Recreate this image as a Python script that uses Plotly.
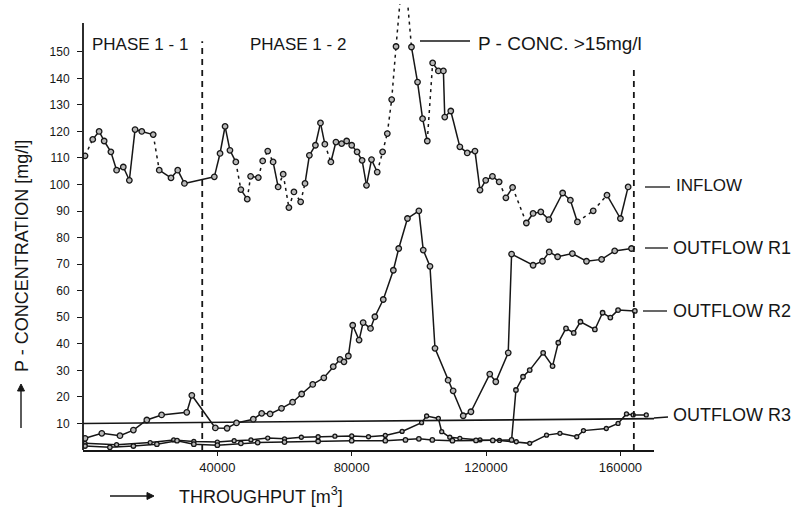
import plotly.graph_objects as go

# ---------------- data ----------------
inflow_x = [600, 2900, 4800, 6300, 8300, 10000, 12000, 13800, 15500, 17500,
            20900, 22700, 26200, 28200, 30200, 39100, 40800, 42300, 43750, 45500,
            47000, 48900, 49900, 52200, 53500, 55000, 56600, 58100, 59600, 61300,
            62800, 64800, 66100, 67400, 69200, 70700, 72000, 73800, 75300, 77000,
            78500, 80000, 81600, 83100, 84400, 85900, 87600, 89200, 90600, 91900,
            93200, 95500, 97800, 99600, 101100, 102500, 104100, 105800, 107300, 107700,
            109500, 112200, 114400, 116700, 118200, 119900, 121900, 123900, 125900, 127900,
            132000, 134000, 136300, 138700, 142800, 145100, 147200, 151900, 156000, 160000,
            162300]
inflow_y = [110.8, 117, 120, 116.4, 112.3, 105.4, 106.6, 101.6, 120.7, 120,
            118.8, 105.4, 102.5, 105.4, 100.4, 102.9, 111.7, 121.9, 112.9, 108.5,
            98.1, 94.5, 103.1, 102.6, 108.9, 112.6, 108.5, 99.1, 103.9, 91.3,
            97.2, 93.5, 100.4, 111, 114.8, 123.2, 115.2, 108.5, 116, 115.4,
            116.4, 114.8, 112.3, 109.1, 99.7, 109.4, 104.7, 112.3, 119.2, 132,
            152, 185, 151.8, 138.6, 124.8, 116.4, 145.8, 142.8, 142.8, 125.4,
            127.7, 114.2, 111.9, 112.6, 97.9, 101.6, 103.1, 101, 95, 98.9,
            85.5, 89.1, 89.7, 86.8, 96.8, 94.1, 85.9, 90.1, 96, 87.2,
            99.1]
# index of the point that lies above the axis (P-conc. > scale)
inflow_offscale = [51]
# segments i -> i+1 that are drawn dashed (gaps in the record)
inflow_dashed = [0, 10, 19, 21, 23, 24, 25, 27, 28, 29, 30, 31, 36, 46, 47, 48,
                 49, 50, 51, 55, 67, 69, 76, 77]

r1_x = [600, 5600, 11000, 15000, 19000, 23400, 30900, 32400, 39400, 42900,
        45700, 50700, 53200, 55700, 59100, 62400, 65100, 68400, 71700, 74500,
        76500, 77700, 79000, 80300, 82200, 83400, 85600, 86900, 89400, 92400,
        94000, 96600, 100000, 101300, 103300, 104800, 108700, 110200, 113200, 115500,
        121100, 122900, 126600, 127600, 134000, 136800, 138800, 141300, 145700, 149900,
        154400, 158300, 163300]
r1_y = [4.4, 6.3, 5.4, 7.5, 11.3, 13.2, 14.2, 20.6, 8.3, 8.2,
        10.2, 11.6, 13.8, 13.6, 15.7, 18, 21.1, 24.7, 27.2, 31.4,
        34.1, 33.2, 35.4, 47, 41.4, 48, 45.8, 50.2, 56.7, 67.7,
        75.9, 87.2, 90.1, 75.3, 69.2, 38.3, 26.3, 22.3, 12.9, 14.4,
        28.6, 25.7, 36.6, 73.8, 69.6, 71.1, 74.6, 72.8, 74, 71.1,
        71.8, 75, 75.9]

r2_x = [600, 8000, 15000, 22000, 28000, 33000, 40000, 47000, 52000, 60000,
        70000, 80000, 90000, 96000, 100000, 104000, 110000, 117000, 122000, 127600,
        128900, 131000, 133000, 137000, 139800, 141500, 143800, 146100, 148100, 152400,
        154700, 157000, 159300, 164300]
r2_y = [1.5, 1.0, 1.5, 2.2, 3.5, 2.2, 1.8, 2.5, 2.8, 3.0,
        3.3, 3.5, 3.5, 3.8, 4.2, 3.8, 3.5, 3.6, 3.6, 3.8,
        22.6, 27.6, 30.1, 36.6, 31.6, 40.4, 45.8, 44.1, 48.3, 45.4,
        51.7, 49.9, 52.7, 52.4]

r3_x = [600, 10000, 20000, 27000, 33000, 40000, 45000, 50000, 55000, 60000,
        65000, 70000, 75000, 80000, 85000, 90000, 95000, 100800, 102300, 105800,
        106800, 109200, 112200, 118200, 124000, 129000, 133000, 138000, 142000, 147000,
        149000, 155800, 159300, 161800, 163800, 167700]
r3_y = [2.5, 2.0, 2.8, 3.8, 3.2, 3.0, 3.5, 3.8, 4.5, 4.2,
        4.8, 5.0, 5.2, 5.3, 5.0, 5.5, 7.0, 10.3, 12.8, 11.9,
        6.9, 4.8, 4.4, 3.8, 3.6, 3.1, 2.5, 5.6, 6.3, 5.0,
        7.3, 8.1, 10.0, 13.6, 13.2, 13.2]

limit_x = [0, 170000]
limit_y = [10, 11.8]

phase_boundary_x = 35500
phase_boundary_top = 154
end_x = 164000
end_top = 145

ytick_vals = [10, 20, 30, 40, 50, 60, 70, 80, 90, 100, 110, 120, 130, 140, 150]
xtick_vals = [40000, 80000, 120000, 160000]
xtick_text = ["40000", "80000", "120000", "160000"]

FONT = "Liberation Sans"
INK = "#161616"

# ---------------- layout geometry ----------------
L, R, T, B = 83, 142, 4, 58
W, H = 796, 508
PW, PH = W - L - R, H - T - B


def px(x):
    return (x - L) / PW


def py(y):
    return (H - B - y) / PH


def split(xs, ys, dashed):
    sx, sy, dx, dy = [], [], [], []
    for i in range(len(xs) - 1):
        if i in dashed:
            dx += [xs[i], xs[i + 1], None]
            dy += [ys[i], ys[i + 1], None]
        else:
            sx += [xs[i], xs[i + 1], None]
            sy += [ys[i], ys[i + 1], None]
    return sx, sy, dx, dy


fig = go.Figure()

marker = dict(size=5.5, color="#b8b8b8", line=dict(color=INK, width=1.3), symbol="circle")

# limit line
fig.add_trace(go.Scatter(x=limit_x, y=limit_y, mode="lines",
                         line=dict(color=INK, width=1.6), hoverinfo="skip"))

# inflow
sx, sy, dx, dy = split(inflow_x, inflow_y, inflow_dashed)
fig.add_trace(go.Scatter(x=sx, y=sy, mode="lines", line=dict(color=INK, width=1.5)))
fig.add_trace(go.Scatter(x=dx, y=dy, mode="lines", line=dict(color=INK, width=1.5, dash="3px,4px")))
mx = [x for i, x in enumerate(inflow_x) if i not in inflow_offscale]
my = [y for i, y in enumerate(inflow_y) if i not in inflow_offscale]
fig.add_trace(go.Scatter(x=mx, y=my, mode="markers", marker=marker))

# outflows
for xs, ys, msize in [(r3_x, r3_y, 4), (r2_x, r2_y, 4.5), (r1_x, r1_y, 5.5)]:
    m = dict(marker)
    m["size"] = msize
    fig.add_trace(go.Scatter(x=xs, y=ys, mode="lines+markers",
                             line=dict(color=INK, width=1.5), marker=m))


def pline(x0, y0, x1, y1, w=1.3):
    return dict(type="line", xref="paper", yref="paper", x0=px(x0), x1=px(x1),
                y0=py(y0), y1=py(y1), line=dict(color=INK, width=w))


def arrow_head(tipx, tipy, dirx, diry, size=7, half=3.5):
    # triangle pointing in direction (dirx, diry) given in pixels
    bx, by = tipx - dirx * size, tipy - diry * size
    nx, ny = -diry, dirx
    pts = [(tipx, tipy), (bx + nx * half, by + ny * half), (bx - nx * half, by - ny * half)]
    path = "M " + " L ".join(f"{px(a):.5f},{py(b):.5f}" for a, b in pts) + " Z"
    return dict(type="path", xref="paper", yref="paper", path=path,
                fillcolor=INK, line=dict(color=INK, width=1))


shapes = [
    # phase boundary and end of test
    dict(type="line", xref="x", yref="y", x0=phase_boundary_x, x1=phase_boundary_x,
         y0=0, y1=phase_boundary_top, line=dict(color=INK, width=1.8, dash="6px,5px")),
    dict(type="line", xref="x", yref="y", x0=end_x, x1=end_x,
         y0=0, y1=end_top, line=dict(color=INK, width=1.8, dash="6px,5px")),
    # y axis line (up to 160)
    dict(type="line", xref="paper", yref="paper", x0=0, x1=0, y0=0, y1=py(23),
         line=dict(color=INK, width=1.8)),
    # leader lines to labels
    pline(420, 41, 470, 41),
    pline(645, 187, 670, 187),
    pline(645, 248, 668, 248),
    pline(643, 311, 667, 311),
    dict(type="line", xref="paper", yref="paper", x0=1, x1=px(668), y0=py(418), y1=py(417),
         line=dict(color=INK, width=1.3)),
    # axis-title arrows
    pline(21, 428, 21, 390, 1.4),
    arrow_head(21, 384, 0, -1),
    pline(110, 496, 148, 496, 1.4),
    arrow_head(154, 496, 1, 0),
]


def label(text, x, y, size, xanchor="left", angle=0):
    return dict(text=text, xref="paper", yref="paper", x=x, y=y, xanchor=xanchor,
                yanchor="middle", showarrow=False, textangle=angle,
                font=dict(family=FONT, size=size, color=INK))


annotations = [
    label("PHASE 1 - 1", px(140), py(44), 17, "center"),
    label("PHASE 1 - 2", px(298), py(44), 17, "center"),
    label("P - CONC. &gt;15mg/l", px(476), py(43), 19),
    label("INFLOW", px(674), py(186), 17),
    label("OUTFLOW R1", px(671), py(248), 18),
    label("OUTFLOW R2", px(671), py(311), 18),
    label("OUTFLOW R3", px(671), py(415), 18),
    label("P - CONCENTRATION [mg/l]", px(22), py(256), 18, "center", -90),
    label("THROUGHPUT [m<sup>3</sup>]", px(177), py(495), 18),
]

fig.update_layout(
    width=W, height=H, margin=dict(l=L, r=R, t=T, b=B),
    paper_bgcolor="white", plot_bgcolor="white", showlegend=False,
    shapes=shapes, annotations=annotations,
    font=dict(family=FONT, color=INK),
    xaxis=dict(range=[0, 170000], showline=True, linecolor=INK, linewidth=1.8,
               showgrid=False, zeroline=False, ticks="outside", ticklen=4,
               tickcolor=INK, tickvals=xtick_vals, ticktext=xtick_text,
               tickfont=dict(family=FONT, size=13, color=INK)),
    yaxis=dict(range=[0, 168], showline=False, showgrid=False, zeroline=False,
               ticks="outside", ticklen=5, tickcolor=INK, tickvals=ytick_vals,
               ticklabelstandoff=5,
               tickfont=dict(family=FONT, size=12, color=INK)),
)

fig.write_html("out.html")
